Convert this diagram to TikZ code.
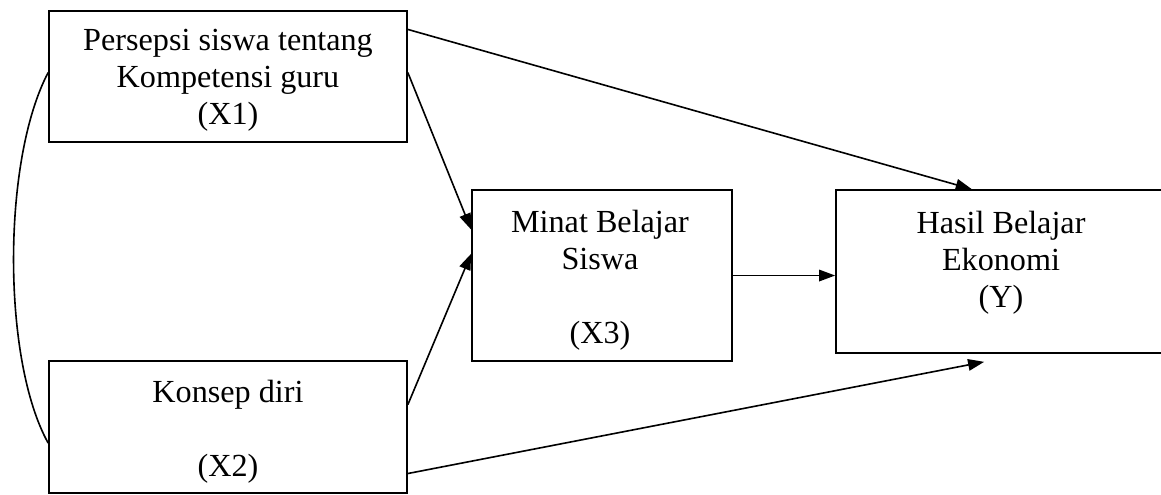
\documentclass[tikz,border=0pt]{standalone}
\usepackage{fontspec}
\setmainfont{Liberation Serif}
\usetikzlibrary{arrows.meta,calc}
\tikzset{
  kasten/.style={draw, inner sep=0pt},
  beschr/.style={inner sep=0pt, anchor=north, align=center, font=\fontsize{12pt}{13.8pt}\selectfont},
}
\begin{document}
\begin{tikzpicture}[x=0.01311cm, y=-0.01311cm, line width=0.6pt, >={Triangle[length=6pt,width=4.3pt]}]
\useasboundingbox (0,0) rectangle (1161,494);

% Kaesten
\node[kasten, minimum width=4.693cm, minimum height=1.717cm] (x1) at (228,76.5) {};
\node[kasten, minimum width=4.693cm, minimum height=1.731cm] (x2) at (228,427) {};
\node[kasten, minimum width=3.409cm, minimum height=2.242cm] (x3) at (602,275.5) {};
\node[kasten, minimum width=4.326cm, minimum height=2.137cm] (y) at (1001,271.5) {};

% Beschriftungen
\node[beschr] (tx1) at ($(x1.north)+(0,18)$) {Persepsi siswa tentang\\Kompetensi guru\\(X1)};
\node[beschr] (tx2) at ($(x2.north)+(0,19)$) {Konsep diri\\[13.8pt](X2)};
\node[beschr] (tx3) at ($(x3.north)+(-2,20)$) {Minat Belajar\\Siswa\\[13.8pt](X3)};
\node[beschr] (ty) at ($(y.north)+(0,21)$) {Hasil Belajar\\Ekonomi\\(Y)};

% Pfeile
\draw[->] ($(x1.north east)!0.145!(x1.south east)$) -- ($(y.north west)!0.412!(y.north east)$);
\draw[->] ($(x1.north east)!0.47!(x1.south east)$) -- ($(x3.north west)!0.234!(x3.south west)$);
\draw[->] ($(x2.north east)!0.333!(x2.south east)$) -- ($(x3.north west)!0.374!(x3.south west)$);
\draw[->] ($(x2.north east)!0.848!(x2.south east)$) -- ($(y.south west)+(149,8)$);
\draw[->] (x3.east) -- (x3.east -| y.west);

% Korrelation X1 - X2
\draw ($(x1.north west)!0.47!(x1.south west)$) .. controls (2,160) and (2,360) .. ($(x2.north west)!0.62!(x2.south west)$);

\end{tikzpicture}
\end{document}
